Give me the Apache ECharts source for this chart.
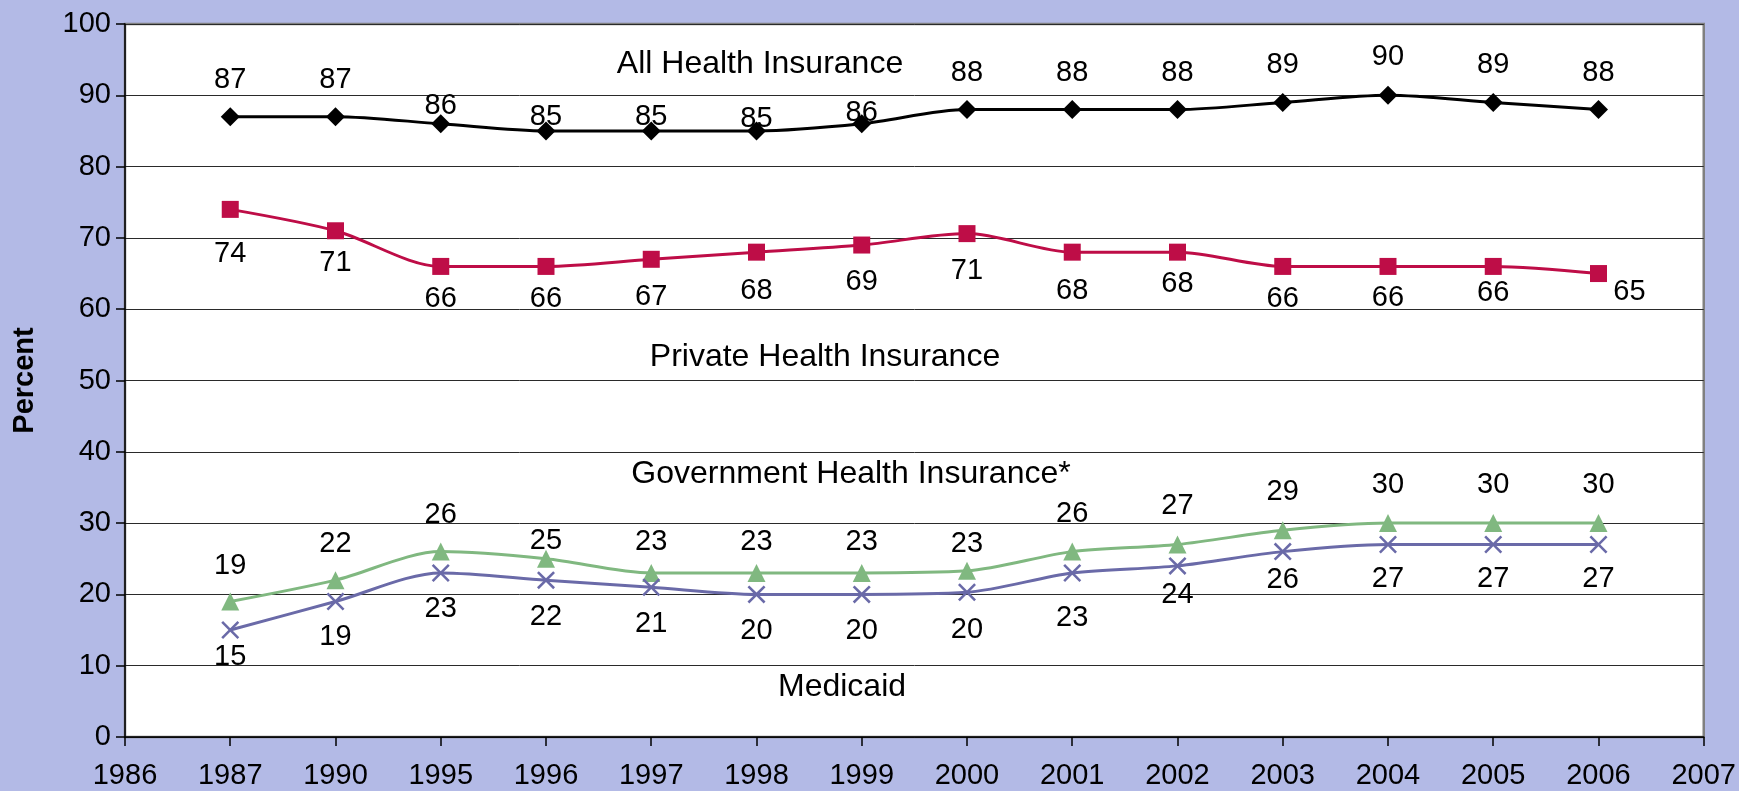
<!DOCTYPE html>
<html>
<head>
<meta charset="utf-8">
<script src="https://cdn.jsdelivr.net/npm/echarts@6/dist/echarts.min.js"></script>
<style>
html,body{margin:0;padding:0;background:#b3bae6;}
#chart{width:1739px;height:791px;}
</style>
</head>
<body>
<div id="chart"></div>
<script>
// ---- data ----
var years = ['1986','1987','1990','1995','1996','1997','1998','1999','2000','2001','2002','2003','2004','2005','2006','2007'];
var allHealth  = [null, 87, 87, 86, 85, 85, 85, 86, 88, 88, 88, 89, 90, 89, 88, null];
var privateIns = [null, 74, 71, 66, 66, 67, 68, 69, 70.6, 68, 68, 66, 66, 66, 65, null];
var government = [null, 19, 22, 26, 25, 23, 23, 23, 23.3, 26, 27, 29, 30, 30, 30, null];
var medicaid   = [null, 15, 19, 23, 22, 21, 20, 20, 20.3, 23, 24, 26, 27, 27, 27, null];
var seriesNames = ['All Health Insurance', 'Private Health Insurance', 'Government Health Insurance*', 'Medicaid'];

// ---- label nudges (px, relative to point centre) ----
var nudgeAll  = [null,-37,-37,-18,-14,-14,-12,-11,-37,-37,-37,-37,-38,-37,-37,null];
var nudgePriv = [null,45,32,33,33,38,39,37,37,39,32,33,32,27,18,null];
var nudgeGov  = [null,-36,-36,-37,-18,-31,-31,-31,-27,-38,-38,-38,-38,-38,-38,null];
var nudgeMed  = [null,27,35,36,37,37,37,37,38,45,29,28,35,35,35,null];

var FONT = "'Liberation Sans', Arial, sans-serif";

function build(values, nudges, dxLast) {
  return values.map(function (v, i) {
    if (v === null) return null;
    var dx = (dxLast && i === values.length - 2) ? dxLast : 0;
    return { value: v, label: { offset: [dx, nudges[i]] } };
  });
}

function lineSeries(name, values, nudges, color, symbol, size, dxLast) {
  return {
    name: name,
    type: 'line',
    data: build(values, nudges, dxLast),
    smooth: 0.3,
    symbol: symbol,
    symbolSize: size,
    lineStyle: { color: color, width: 3 },
    itemStyle: { color: color },
    label: {
      show: true,
      position: 'inside',
      color: '#000',
      fontSize: 29,
      fontFamily: FONT,
      formatter: function (p) { return Math.round(p.value); }
    },
    emphasis: { disabled: true },
    z: 3
  };
}

var xShape = 'path://M0,1.6L1.6,0L8,6.4L14.4,0L16,1.6L9.6,8L16,14.4L14.4,16L8,9.6L1.6,16L0,14.4L6.4,8Z';

function nameText(i, x, y) {
  return { type: 'text', x: x, y: y, z: 10,
    style: { text: seriesNames[i], fontSize: 32, fontFamily: FONT, fill: '#000', align: 'center', verticalAlign: 'middle' } };
}

var chart = echarts.init(document.getElementById('chart'));
chart.setOption({
  backgroundColor: '#b3bae6',
  animation: false,
  grid: {
    left: 125, right: 31, top: 24, bottom: 54,
    show: true, backgroundColor: '#ffffff', borderColor: '#808080', borderWidth: 2.5
  },
  xAxis: {
    type: 'category',
    data: years,
    boundaryGap: false,
    axisLine: { show: true, lineStyle: { color: '#000', width: 1.5 } },
    axisTick: { show: true, length: 9, lineStyle: { color: '#000', width: 1.5 } },
    axisLabel: { color: '#000', fontSize: 29, fontFamily: FONT, margin: 24, interval: 0 },
    splitLine: { show: false }
  },
  yAxis: {
    type: 'value',
    min: 0, max: 100, interval: 10,
    name: 'Percent',
    nameLocation: 'middle',
    nameGap: 86,
    nameRotate: 90,
    nameTextStyle: { color: '#000', fontSize: 29, fontWeight: 'bold', fontFamily: FONT },
    axisLine: { show: true, lineStyle: { color: '#000', width: 1.5 } },
    axisTick: { show: true, length: 9, lineStyle: { color: '#000', width: 1.5 } },
    axisLabel: { color: '#000', fontSize: 29, fontFamily: FONT, margin: 14 },
    splitLine: { show: true, lineStyle: { color: '#2a2a2a', width: 1 } }
  },
  series: [
    lineSeries(seriesNames[0], allHealth, nudgeAll, '#000000', 'diamond', 19),
    lineSeries(seriesNames[1], privateIns, nudgePriv, '#be0d47', 'rect', 17, 31),
    lineSeries(seriesNames[2], government, nudgeGov, '#80b880', 'triangle', 18),
    lineSeries(seriesNames[3], medicaid, nudgeMed, '#6a6aa8', xShape, 18)
  ],
  graphic: [
    nameText(0, 760, 64),
    nameText(1, 825, 357),
    nameText(2, 851, 474),
    nameText(3, 842, 687)
  ]
});
</script>
</body>
</html>
